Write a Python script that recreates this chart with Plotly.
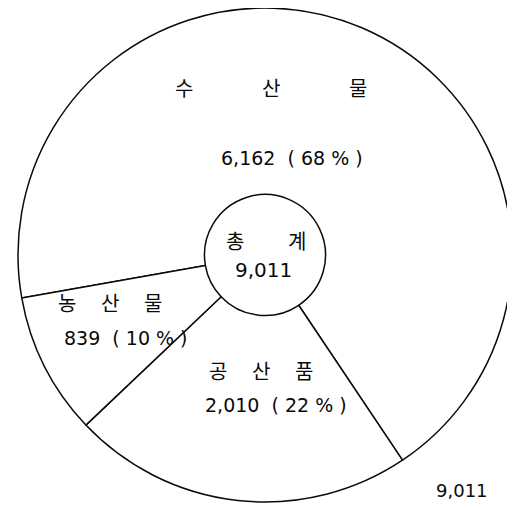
import plotly.graph_objects as go

# ---- data ----
categories = ["수산물", "공산품", "농산물"]
values = [6162, 2010, 839]
pct_labels = [68, 22, 10]
total_label = "총계"
total_value = 9011

# ---- layout constants (screen pixels in the 515x508 window) ----
W, H = 515, 508
OFF = 8  # page body margin offsets the figure by 8px
name_pos = [(271, 88, 87), (261, 370, 43), (110, 302, 43)]   # centre x, y, char pitch
value_pos = [(292, 158), (276, 405), (126, 338)]
total_name_pos = (266, 240, 62)
total_value_pos = (263, 270)
corner_value_pos = (462, 490)
PIE_CX, PIE_CY, PIE_R = 265, 255, 247

KFONT = "Noto Sans CJK KR"
NFONT = "DejaVu Sans"
INK = "#0a0a0a"
NB = "\u00a0"

fig = go.Figure(go.Pie(
    labels=categories,
    values=values,
    sort=False,
    direction="clockwise",
    rotation=-100,
    hole=0.245,
    textinfo="none",
    hoverinfo="label+value+percent",
    marker=dict(colors=["white"] * len(categories), line=dict(color=INK, width=1.5)),
    domain=dict(
        x=[(PIE_CX - OFF - PIE_R) / W, (PIE_CX - OFF + PIE_R) / W],
        y=[max(0.0, 1 - (PIE_CY - OFF + PIE_R) / H), min(1.0, 1 - (PIE_CY - OFF - PIE_R) / H)],
    ),
    showlegend=False,
))

ann = []

def px(x, y):
    return (x - OFF) / W, 1 - (y - OFF) / H

def spaced(label, cx, cy, pitch, size):
    n = len(label)
    for i, ch in enumerate(label):
        x = cx + (i - (n - 1) / 2) * pitch
        ax, ay = px(x, cy)
        ann.append(dict(x=ax, y=ay, xref="paper", yref="paper", text=ch, showarrow=False,
                        xanchor="center", yanchor="middle",
                        font=dict(family=KFONT, size=size, color=INK)))

def plain(text, cx, cy, size):
    ax, ay = px(cx, cy)
    ann.append(dict(x=ax, y=ay, xref="paper", yref="paper", text=text, showarrow=False,
                    xanchor="center", yanchor="middle",
                    font=dict(family=NFONT, size=size, color=INK)))

for cat, val, pct, (nx, ny, pitch), (vx, vy) in zip(categories, values, pct_labels, name_pos, value_pos):
    spaced(cat, nx, ny, pitch, 20)
    plain(f"{val:,}{NB}{NB}({NB}{pct}{NB}%{NB})", vx, vy, 19)

spaced(total_label, *total_name_pos, 20)
plain(f"{total_value:,}", *total_value_pos, 20)
plain(f"{total_value:,}", *corner_value_pos, 18)

fig.update_layout(
    width=W, height=H,
    margin=dict(l=0, r=0, t=0, b=0),
    paper_bgcolor="white", plot_bgcolor="white",
    annotations=ann,
)

fig.write_html("out.html")
